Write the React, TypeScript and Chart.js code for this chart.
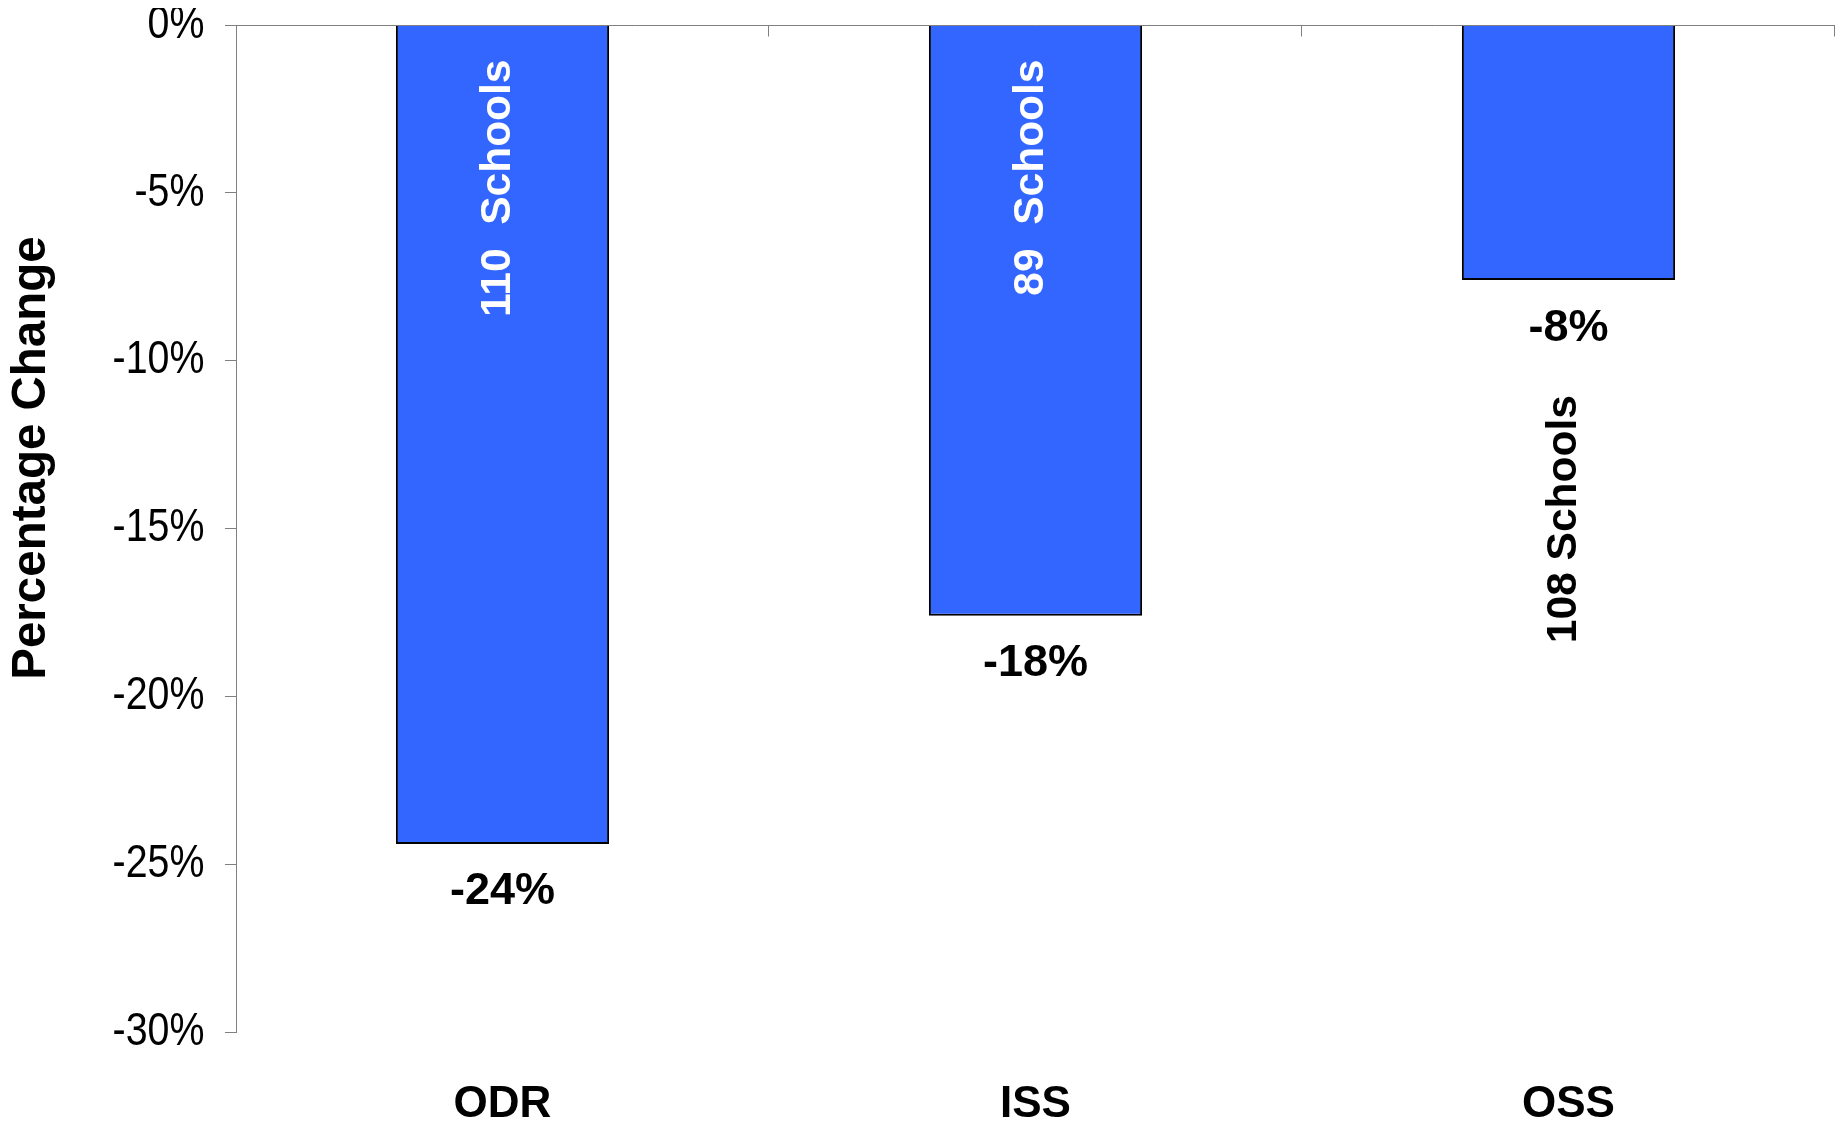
import React, { useEffect, useRef } from "react";
import { Chart, registerables } from "chart.js";

Chart.register(...registerables);

// Discipline measures and their percentage change
const categories = ["ODR", "ISS", "OSS"];
const pctChange = [-24.4, -17.6, -7.6];
const schoolLabels = ["110  Schools", "89  Schools", "108 Schools"];
const schoolLabelInside = [true, true, false];

// Y axis range and step (percent)
const yMin = -30;
const yMax = 0;
const yStep = 5;

const BAR_BLUE = "#3366FF";
const AXIS_GREY = "#808080";
const SANS = "'Liberation Sans', Arial, sans-serif";
// Condensed width factor for the value-axis labels (narrow face look)
const NARROW_SCALE = 0.855;

const annotatePlugin = {
  id: "annotate",
  afterDatasetsDraw(chart: any) {
    const { ctx, chartArea, scales } = chart;
    const xs = scales.x;
    const ys = scales.y;
    const zeroY = Math.round(ys.getPixelForValue(0)) + 0.5;
    ctx.save();

    // Category axis crossing at zero, with boundary tick marks pointing down
    ctx.strokeStyle = AXIS_GREY;
    ctx.lineWidth = 1;
    ctx.beginPath();
    ctx.moveTo(chartArea.left, zeroY);
    ctx.lineTo(chartArea.right, zeroY);
    const n = categories.length;
    for (let i = 1; i <= n; i++) {
      const bx =
        i < n
          ? (xs.getPixelForValue(i - 1) + xs.getPixelForValue(i)) / 2
          : chartArea.right;
      const px = Math.round(bx) - 0.5;
      ctx.moveTo(px, zeroY);
      ctx.lineTo(px, zeroY + 11);
    }
    ctx.stroke();

    // Value-axis tick labels in a condensed face
    ctx.fillStyle = "#000";
    ctx.font = `46px ${SANS}`;
    ctx.textAlign = "right";
    ctx.textBaseline = "middle";
    ys.ticks.forEach((t: any) => {
      const ty = ys.getPixelForValue(t.value);
      ctx.save();
      ctx.translate(chartArea.left - 31.6, ty);
      ctx.scale(NARROW_SCALE, 1);
      ctx.fillText(`${t.value}%`, 0, 0);
      ctx.restore();
    });

    // Value and school-count labels
    const meta = chart.getDatasetMeta(0);
    meta.data.forEach((bar: any, i: number) => {
      const { x: bx, y: by } = bar.getProps(["x", "y"], true);
      const v = pctChange[i];

      ctx.fillStyle = "#000";
      ctx.font = `bold 45px ${SANS}`;
      ctx.textAlign = "center";
      ctx.textBaseline = "middle";
      ctx.fillText(`${Math.round(v)}%`, bx, by + 48);

      ctx.save();
      const inside = schoolLabelInside[i];
      const anchorY = inside ? zeroY + 34 : by + 115;
      ctx.translate(bx - 4, anchorY);
      ctx.rotate(-Math.PI / 2);
      ctx.fillStyle = inside ? "#FFFFFF" : "#000000";
      ctx.font = `bold 42.5px ${SANS}`;
      ctx.textAlign = "right";
      ctx.textBaseline = "middle";
      ctx.fillText(schoolLabels[i], 0, 0);
      ctx.restore();
    });

    // Vertical axis title
    ctx.save();
    ctx.translate(chartArea.left - 204, chartArea.top + chartArea.height * 0.43);
    ctx.rotate(-Math.PI / 2);
    ctx.fillStyle = "#000";
    ctx.font = `bold 47.5px ${SANS}`;
    ctx.textAlign = "center";
    ctx.textBaseline = "middle";
    ctx.fillText("Percentage Change", 0, 0);
    ctx.restore();

    ctx.restore();
  },
};

export default function App() {
  const canvasRef = useRef<HTMLCanvasElement | null>(null);

  useEffect(() => {
    if (!canvasRef.current) return;
    const chart = new Chart(canvasRef.current, {
      type: "bar",
      data: {
        labels: categories,
        datasets: [
          {
            data: pctChange,
            backgroundColor: BAR_BLUE,
            borderColor: "#000000",
            borderWidth: 2,
            barPercentage: 0.4,
            categoryPercentage: 1.0,
          },
        ],
      },
      options: {
        animation: false,
        responsive: false,
        maintainAspectRatio: false,
        devicePixelRatio: 1,
        layout: { padding: { left: 0, right: 4, top: 17, bottom: 0 } },
        plugins: {
          legend: { display: false },
          tooltip: { enabled: false },
          title: { display: false },
        },
        scales: {
          x: {
            position: "bottom",
            grid: { display: false, drawTicks: false },
            border: { display: false },
            ticks: {
              color: "#000",
              padding: 46,
              font: { family: SANS, size: 44, weight: "bold" },
            },
            afterFit: (scale: any) => {
              scale.height = 85;
            },
          },
          y: {
            min: yMin,
            max: yMax,
            grid: {
              drawOnChartArea: false,
              drawTicks: true,
              tickLength: 11,
              color: AXIS_GREY,
              lineWidth: 1,
            },
            border: { display: true, color: AXIS_GREY, width: 1 },
            ticks: {
              stepSize: yStep,
              display: false,
            },
            afterFit: (scale: any) => {
              scale.width = 228;
              scale.paddingTop = 0;
              scale.paddingBottom = 0;
            },
          },
        },
      },
      plugins: [annotatePlugin],
    });
    return () => chart.destroy();
  }, []);

  return (
    <div style={{ width: 1831, height: 1109, background: "#fff" }}>
      <canvas
        ref={canvasRef}
        width={1831}
        height={1109}
        style={{ display: "block" }}
      />
    </div>
  );
}
